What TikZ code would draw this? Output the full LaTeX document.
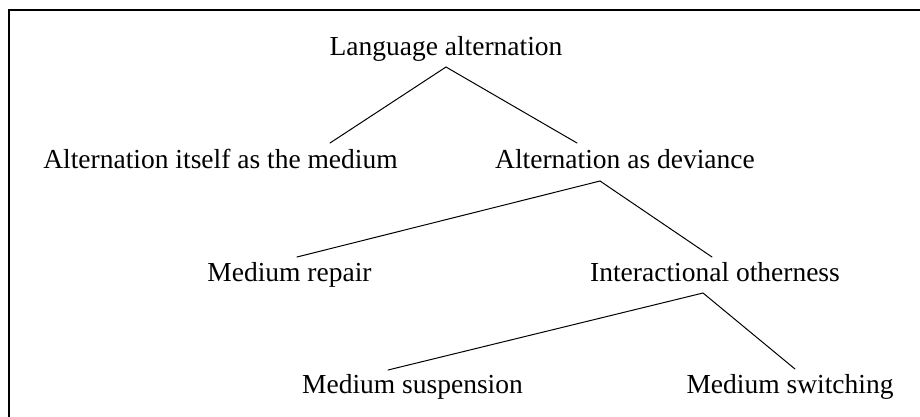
\documentclass[tikz,border=0pt]{standalone}
\usepackage{fontspec}
\setmainfont{Liberation Serif}
\begin{document}
\begin{tikzpicture}[x=1pt,y=-1pt,
  label/.style={anchor=base,inner sep=0pt,font=\fontsize{27.5}{30}\selectfont},
  branch/.style={line width=1pt,line cap=round},
  frameline/.style={line width=1.3pt}]
\useasboundingbox (0,0) rectangle (920,416);
% open frame (left and top edges)
\coordinate (fbl) at (9,420);
\coordinate (ftl) at (9,10);
\coordinate (ftr) at (924,10);
\draw[frameline] (fbl) -- (ftl) -- (ftr);

% tree labels
\node[label] (root) at (446,55) {Language alternation};
\node[label] (medium) at (220.5,168) {Alternation itself as the medium};
\node[label] (deviance) at (625,168) {Alternation as deviance};
\node[label] (repair) at (289.5,281) {Medium repair};
\node[label] (other) at (715,281) {Interactional otherness};
\node[label] (susp) at (412.5,393) {Medium suspension};
\node[label] (switch) at (790,393) {Medium switching};

% branch end points
\coordinate (root-b) at (446,67);
\coordinate (medium-t) at (330,143);
\coordinate (deviance-t) at (577,143);
\coordinate (deviance-b) at (600,181);
\coordinate (repair-t) at (297,257);
\coordinate (other-t) at (712,257);
\coordinate (other-b) at (703,293);
\coordinate (susp-t) at (388,370);
\coordinate (switch-t) at (795,369);

\draw[branch] (medium-t) -- (root-b) -- (deviance-t);
\draw[branch] (repair-t) -- (deviance-b) -- (other-t);
\draw[branch] (susp-t) -- (other-b) -- (switch-t);
\end{tikzpicture}
\end{document}
